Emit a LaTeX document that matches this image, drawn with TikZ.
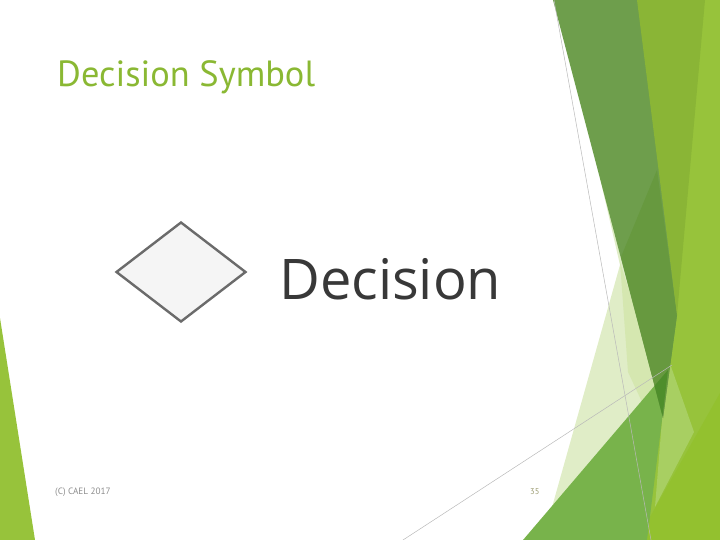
\documentclass[tikz,border=0pt]{standalone}
\usepackage{fontspec}
\setmainfont{PT Sans}
\newfontfamily\shotfont{Open Sans}
\usetikzlibrary{shapes.geometric}
\definecolor{facetgreen}{HTML}{8AB833}
\definecolor{limeband}{HTML}{97C33B}
\definecolor{topband}{HTML}{8AB536}
\definecolor{darkband}{HTML}{6E9E4C}
\definecolor{darkerband}{HTML}{67993F}
\definecolor{lowband}{HTML}{78B34B}
\definecolor{overband}{HTML}{4E8E2B}
\definecolor{yellowband}{HTML}{93C12F}
\definecolor{lightpatch}{HTML}{A8CF62}
\definecolor{paleband}{HTML}{E0EDC7}
\definecolor{paleband2}{HTML}{D5E7B0}
\definecolor{footgray}{HTML}{8C8C8C}
\definecolor{pagenum}{HTML}{9C9C72}
\tikzset{
  facetline/.style={draw=gray!55, line width=0.5pt},
  decisionbox/.style={diamond, draw=black!58, fill=black!4, line width=2.4pt,
    minimum width=130pt, minimum height=100pt, inner sep=0pt},
}
\begin{document}
\begin{tikzpicture}[x=1pt,y=-1pt]
\useasboundingbox (0,0) rectangle (720,540);
% right facets
\fill[paleband] (600,178) -- (620,265) -- (540,550) -- (600,545) -- (662,400) -- (640,250) -- cycle;
\fill[paleband2] (620,262) -- (660,388) -- (642,402) -- (628,372) -- cycle;
\fill[limeband] (703,0) -- (720,0) -- (720,540) -- (640,540) -- cycle;
\fill[lightpatch] (668,358) -- (694,432) -- (655,507) -- (662,420) -- cycle;
\fill[yellowband] (637,540) -- (720,393) -- (720,540) -- cycle;
\fill[lowband] (523,540) -- (668,370) -- (662,420) -- (647,540) -- cycle;
\fill[darkband] (553,0) -- (640,0) -- (677,315) -- (663,418) -- cycle;
\fill[darkerband] (621,257) -- (657,170) -- (677,315) -- (663,418) -- cycle;
\begin{scope}
  \clip (523,540) -- (668,370) -- (662,420) -- (647,540) -- cycle;
  \fill[overband] (553,0) -- (640,0) -- (677,315) -- (663,418) -- cycle;
\end{scope}
\fill[topband] (637,0) -- (705,0) -- (677,315) -- cycle;
\draw[facetline] (554,0) -- (651,540);
\draw[facetline] (403,540) -- (672,365);
% left facet
\fill[limeband] (0,318) -- (35,540) -- (0,540) -- cycle;
% title
\node[anchor=base west, inner sep=0pt, text=facetgreen, font=\fontsize{36.4}{40}\selectfont] (title) at (57,87) {Decision Symbol};
% symbol
\node[decisionbox] (decision) at (181,272) {};
\node[anchor=base west, inner sep=0pt, text=black!78, font=\shotfont\fontsize{56}{60}\selectfont] (decisionlabel) at (279,299) {Decision};
% footer
\node[anchor=base west, inner sep=0pt, text=footgray, font=\fontsize{9.2}{10}\selectfont] (footer) at (55,494) {(C) CAEL 2017};
\node[anchor=base west, inner sep=0pt, text=pagenum, font=\fontsize{8.5}{10}\selectfont] (pagenumber) at (530,494) {35};
\end{tikzpicture}
\end{document}
